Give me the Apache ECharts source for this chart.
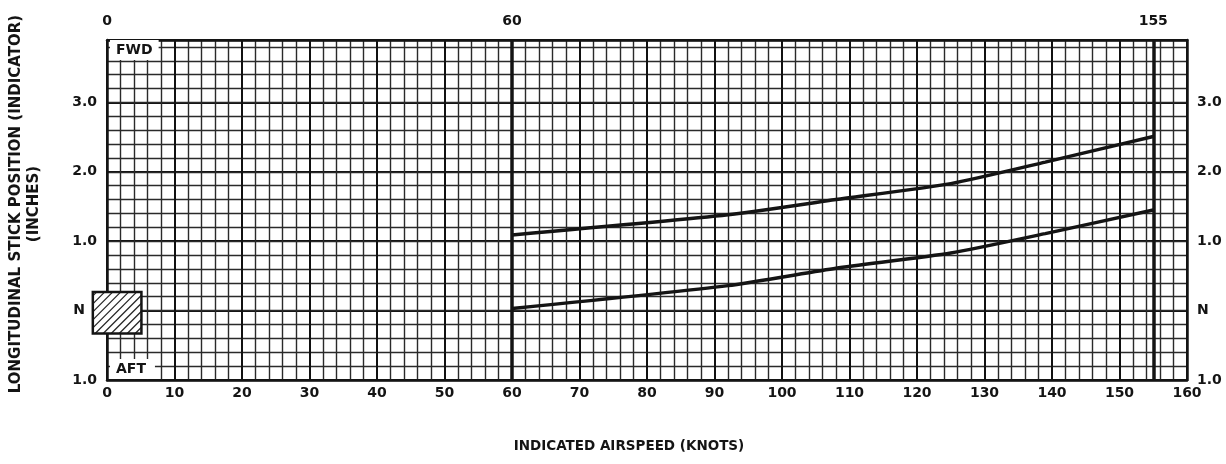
<!DOCTYPE html>
<html><head><meta charset="utf-8">
<script src="https://cdn.jsdelivr.net/npm/echarts@6/dist/echarts.min.js"></script>
<style>html,body{margin:0;padding:0;background:#fff}#c{width:1226px;height:464px}</style>
</head><body><div id="c"></div>
<script>
// ---- data ----
const speedUpper = [60, 92, 108, 125, 139, 155];
const stickUpper = [1.09, 1.38, 1.60, 1.83, 2.14, 2.51];
const speedLower = [60, 92, 108, 125, 139, 155];
const stickLower = [0.03, 0.36, 0.61, 0.83, 1.11, 1.45];
const limitSpeeds = [60, 155];
const topTickLabels = [0, 60, 155];
const neutralBoxX = [-2.1, 5.1];
const neutralBoxY = [-0.33, 0.27];
const xTitle = 'INDICATED AIRSPEED (KNOTS)';
const yTitle = 'LONGITUDINAL STICK POSITION (INDICATOR)\n(INCHES)';

const FONT = 'DejaVu Sans';
const INK = '#141414';
const yFmt = v => (Math.abs(v) < 1e-9 ? '{n|N}' : Math.abs(v).toFixed(1));
const labelStyle = {fontFamily: FONT, fontWeight: 'bold', fontSize: 14, color: INK};
const richN = {n: {fontFamily: FONT, fontWeight: 'bold', fontSize: 14, color: INK, padding: [0, 12, 0, 0]}};
const richNR = {n: {fontFamily: FONT, fontWeight: 'bold', fontSize: 14, color: INK, padding: [0, 0, 0, 0]}};

const chart = echarts.init(document.getElementById('c'), null, {renderer: 'canvas'});
chart.setOption({
  animation: false,
  backgroundColor: '#fff',
  grid: {left: 107, right: 39, top: 40, bottom: 84, show: false},
  xAxis: [
    {
      type: 'value', min: 0, max: 160, interval: 10, position: 'bottom',
      axisLine: {show: true, onZero: false, lineStyle: {color: INK, width: 2.5}},
      axisTick: {show: false},
      axisLabel: Object.assign({margin: 6}, labelStyle),
      splitLine: {show: true, lineStyle: {color: '#111', width: 2}},
      minorTick: {show: false, splitNumber: 5},
      minorSplitLine: {show: true, lineStyle: {color: '#2a2a2a', width: 1.4}}
    },
    {
      type: 'value', min: 0, max: 160, interval: 5, position: 'top',
      axisLine: {show: true, onZero: false, lineStyle: {color: INK, width: 2.5}},
      axisTick: {show: false},
      axisLabel: Object.assign({margin: 12, showMinLabel: true, showMaxLabel: false,
        formatter: v => (topTickLabels.indexOf(Math.round(v)) >= 0 && Math.abs(v - Math.round(v)) < 1e-9 ? String(Math.round(v)) : '')}, labelStyle),
      splitLine: {show: false}
    }
  ],
  yAxis: [
    {
      type: 'value', min: -1, max: 3.9, interval: 1, position: 'left',
      axisLine: {show: true, onZero: false, lineStyle: {color: INK, width: 2.5}},
      axisTick: {show: false},
      axisLabel: Object.assign({margin: 10, showMaxLabel: false, formatter: yFmt, rich: richN}, labelStyle),
      splitLine: {show: true, lineStyle: {color: '#111', width: 2}}
    },
    {
      type: 'value', min: -1, max: 3.9, interval: 1, position: 'right',
      axisLine: {show: true, onZero: false, lineStyle: {color: INK, width: 2.5}},
      axisTick: {show: false},
      axisLabel: Object.assign({margin: 10, showMaxLabel: false, formatter: yFmt, rich: richNR}, labelStyle),
      splitLine: {show: false}
    },
    {
      type: 'value', min: -1, max: 3.9, interval: 0.2, position: 'left',
      axisLine: {show: false}, axisTick: {show: false}, axisLabel: {show: false},
      splitLine: {show: true, lineStyle: {color: '#2a2a2a', width: 1.4}}
    }
  ],
  graphic: [
    {type: 'text', x: 25, y: 204, rotation: Math.PI / 2, z: 100,
      style: {text: yTitle, align: 'center', verticalAlign: 'middle', lineHeight: 18,
        font: 'bold 15px "' + FONT + '"', fill: INK}},
    {type: 'text', x: 629, y: 446, z: 100,
      style: {text: xTitle, align: 'center', verticalAlign: 'middle',
        font: 'bold 13.5px "' + FONT + '"', fill: INK}},
    {type: 'text', x: 110, y: 50, z: 100,
      style: {text: 'FWD', align: 'left', verticalAlign: 'middle', backgroundColor: '#fff', padding: [3, 6, 3, 6],
        font: 'bold 14px "' + FONT + '"', fill: INK}},
    {type: 'text', x: 110, y: 369, z: 100,
      style: {text: 'AFT', align: 'left', verticalAlign: 'middle', backgroundColor: '#fff', padding: [3, 9, 3, 6],
        font: 'bold 14px "' + FONT + '"', fill: INK}}
  ],
  series: [
    {
      type: 'line', name: 'upper', xAxisIndex: 0, yAxisIndex: 0,
      data: speedUpper.map((s, i) => [s, stickUpper[i]]),
      smooth: 0.2, symbol: 'none', lineStyle: {color: INK, width: 3.5}, z: 5,
      markLine: {
        silent: true, symbol: 'none', label: {show: false},
        lineStyle: {color: INK, width: 3.5, type: 'solid'},
        data: limitSpeeds.map(s => ({xAxis: s}))
      }
    },
    {
      type: 'line', name: 'lower', xAxisIndex: 0, yAxisIndex: 0,
      data: speedLower.map((s, i) => [s, stickLower[i]]),
      smooth: 0.2, symbol: 'none', lineStyle: {color: INK, width: 3.5}, z: 5
    },
    {
      type: 'custom', name: 'neutral', xAxisIndex: 0, yAxisIndex: 0, clip: false, z: 20,
      encode: {x: [0, 1], y: [2, 3]},
      data: [[neutralBoxX[0], neutralBoxX[1], neutralBoxY[0], neutralBoxY[1]]],
      renderItem: function (params, api) {
        const p0 = api.coord([api.value(0), api.value(3)]);
        const p1 = api.coord([api.value(1), api.value(2)]);
        const x0 = p0[0], y0 = p0[1], w = p1[0] - p0[0], h = p1[1] - p0[1];
        const children = [{type: 'rect', shape: {x: x0, y: y0, width: w, height: h}, style: {fill: '#fff'}}];
        const step = 8;
        for (let k = -h + step / 2; k < w; k += step) {
          const s0 = Math.max(0, k), s1 = Math.min(w, k + h);
          if (s1 <= s0) continue;
          children.push({type: 'line',
            shape: {x1: x0 + s0, y1: y0 + h - (s0 - k), x2: x0 + s1, y2: y0 + h - (s1 - k)},
            style: {stroke: '#222', lineWidth: 1.2}});
        }
        children.push({type: 'rect', shape: {x: x0, y: y0, width: w, height: h},
          style: {fill: null, stroke: INK, lineWidth: 2.5}});
        return {type: 'group', children: children};
      }
    }
  ]
});
</script>
</body></html>
